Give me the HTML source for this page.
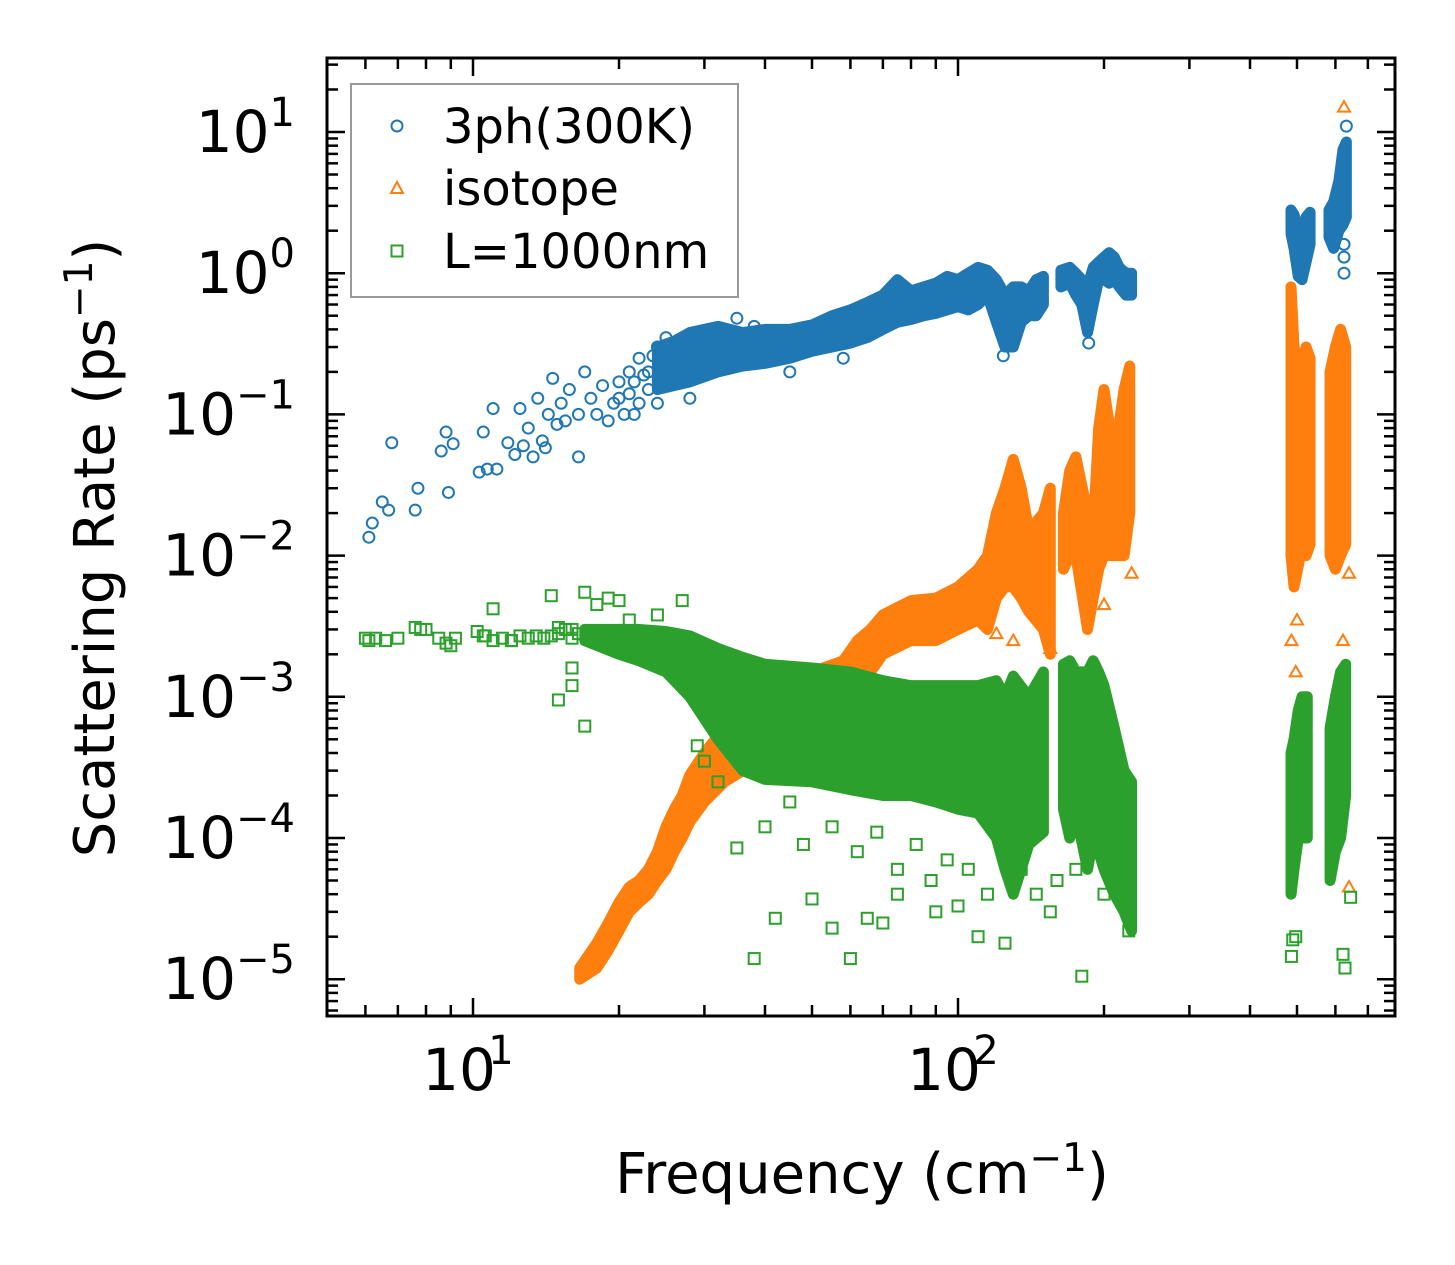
<!DOCTYPE html>
<html><head><meta charset="utf-8"><style>
html,body{margin:0;padding:0;background:#fff;}
svg{display:block;font-family:"DejaVu Sans","Liberation Sans",sans-serif;}
</style></head><body>
<svg id="chart" width="1455" height="1265" viewBox="0 0 1455 1265" xmlns="http://www.w3.org/2000/svg">
<rect x="0" y="0" width="1455" height="1265" fill="#fff"/>
<g id="marks"></g>
<g id="axes"></g>
<text transform="translate(114,548) rotate(-90)" text-anchor="middle" font-size="56">Scattering Rate (ps<tspan font-size="39" dy="-22">−1</tspan><tspan dy="22">)</tspan></text>
<text x="862" y="1193" text-anchor="middle" font-size="56">Frequency (cm<tspan font-size="39" dy="-22">−1</tspan><tspan dy="22">)</tspan></text>
<g>
<rect x="351" y="84" width="387" height="213" fill="#fff" stroke="#999" stroke-width="2"/>
<g>
<circle cx="397" cy="126" r="5.5" fill="none" stroke="#1f77b4" stroke-width="2"/>
<text x="443" y="143" font-size="48">3ph(300K)</text></g>
<g>
<polygon points="391,193 403,193 397,182" fill="none" stroke="#ff7f0e" stroke-width="2"/>
<text x="443" y="205" font-size="48">isotope</text></g>
<g>
<rect x="391.5" y="245.5" width="11" height="11" fill="none" stroke="#2ca02c" stroke-width="2"/>
<text x="443" y="268" font-size="48">L=1000nm</text></g>
</g>
</svg>
<script>
// axis geometry
const X0=327, X1=1395, Y0=58, Y1=1016;
const xDec10=473, xPerDec=485;
const yDec1=132, yPerDec=141.2;
function xs(f){return xDec10+(Math.log10(f)-1)*xPerDec;}
function ys(v){return yDec1+(1-Math.log10(v))*yPerDec;}

const xTickVals=[10,100];
const xTickLabels=["1","2"];
const yTickVals=[10,1,0.1,0.01,0.001,0.0001,0.00001];
const yTickLabels=["1","0","−1","−2","−3","−4","−5"];

// 3ph(300K) data: dense bands [freq, low, high] and isolated points [freq, value]
const blueBandA=[[24,0.15,0.3],[26,0.16,0.33],[28,0.17,0.38],[32,0.2,0.42],[36,0.22,0.38],[40,0.23,0.4],[45,0.25,0.4],[50,0.28,0.43],[55,0.3,0.5],[60,0.32,0.55],[65,0.35,0.62],[70,0.4,0.7],[75,0.45,0.9],[80,0.47,0.75],[85,0.5,0.8],[90,0.52,0.85],[95,0.55,0.95],[100,0.58,0.9],[105,0.55,1.0],[110,0.6,1.1],[115,0.7,1.05],[120,0.45,0.9],[125,0.3,0.7],[130,0.3,0.8],[135,0.45,0.8],[140,0.5,0.75],[145,0.5,0.9],[150,0.6,0.95]];
const blueBandB=[[163,0.8,1.05],[170,0.85,1.1],[175,0.7,1.0],[180,0.6,0.9],[185,0.38,0.8],[190,0.6,1.1],[195,0.9,1.2],[200,0.9,1.3],[205,0.85,1.4],[210,0.9,1.3],[215,0.8,1.1],[222,0.7,1.0],[228,0.7,1.0]];
const blueBandC=[[486,1.9,2.8],[493,1.5,2.6],[503,0.95,2.0],[512,0.9,1.8],[522,1.2,2.5],[532,1.6,2.7]];
const blueBandD=[[582,1.8,2.8],[595,1.5,3.2],[610,2.0,4.5],[622,2.2,7.5],[632,2.5,8.5]];
const bluePts=[[6.1,0.0135],[6.2,0.017],[6.5,0.024],[6.7,0.021],[6.8,0.063],[7.6,0.021],[7.7,0.03],[8.6,0.055],[8.8,0.075],[8.9,0.028],[9.1,0.062],[10.3,0.039],[10.5,0.075],[10.7,0.041],[11,0.11],[11.2,0.041],[11.8,0.063],[12.2,0.052],[12.5,0.11],[12.7,0.06],[13,0.08],[13.3,0.05],[13.6,0.13],[13.9,0.065],[14.1,0.058],[14.3,0.1],[14.6,0.18],[14.9,0.085],[15.2,0.12],[15.5,0.09],[15.8,0.15],[16.5,0.05],[16.5,0.1],[17,0.2],[17.5,0.13],[18,0.1],[18.5,0.16],[19,0.09],[19.5,0.12],[20,0.13],[20,0.17],[20.5,0.1],[21,0.2],[21,0.14],[21.5,0.1],[21.5,0.17],[22,0.25],[22,0.12],[22.5,0.19],[23,0.2],[23,0.15],[23.5,0.26],[24,0.3],[24,0.12],[25,0.35],[25,0.2],[26,0.28],[27,0.22],[28,0.13],[35,0.48],[38,0.42],[45,0.2],[58,0.25],[124,0.26],[186,0.32],[625,1.0],[625,1.3],[625,1.6],[632,11]];

// isotope data
const orangeBandA=[[16.6,0.00001,0.000012],[18,0.000012,0.000018],[19,0.000016,0.000025],[20,0.000022,0.000035],[21,0.00003,0.000045],[22,0.000035,0.00005],[23,0.00004,0.00006],[24,0.00005,0.00008],[25,0.00006,0.00012],[26,0.00008,0.00016],[27,0.0001,0.0002],[28,0.00013,0.00028],[30,0.00018,0.0004],[33,0.00025,0.0006],[36,0.0003,0.0008],[40,0.0005,0.001],[50,0.0006,0.0015],[58,0.001,0.0018],[62,0.0014,0.0025],[66,0.0015,0.003],[70,0.002,0.0038],[80,0.0025,0.0048],[90,0.0025,0.005],[100,0.003,0.006],[110,0.0035,0.008],[115,0.003,0.01],[120,0.005,0.02],[125,0.006,0.03],[130,0.006,0.048],[135,0.005,0.03],[140,0.004,0.015],[150,0.003,0.02],[155,0.002,0.03]];
const orangeBandB=[[165,0.008,0.02],[170,0.01,0.04],[175,0.01,0.05],[185,0.003,0.02],[190,0.005,0.015],[195,0.008,0.08],[200,0.01,0.15],[210,0.01,0.05],[220,0.01,0.15],[226,0.02,0.22]];
const orangeBandC=[[486,0.01,0.8],[493,0.006,0.3],[508,0.01,0.2],[522,0.01,0.3],[532,0.012,0.25]];
const orangeBandD=[[585,0.01,0.2],[600,0.008,0.3],[615,0.01,0.4],[630,0.012,0.3]];
const orangePts=[[487,0.0025],[497,0.0015],[622,0.0025],[640,0.0075],[625,15],[640,0.000045],[155,0.0022],[120,0.0028],[130,0.0025],[228,0.0075],[200,0.0045],[500,0.0035]];

// L=1000nm data
const greenBandA=[[17,0.0025,0.003],[20,0.002,0.003],[22,0.0018,0.003],[25,0.0015,0.0029],[28,0.001,0.0027],[32,0.0005,0.0022],[36,0.0003,0.0019],[40,0.00026,0.0017],[50,0.00025,0.0016],[60,0.00022,0.0015],[70,0.0002,0.0013],[80,0.0002,0.0012],[90,0.00018,0.0012],[100,0.00016,0.0012],[110,0.00015,0.0012],[120,0.0001,0.0013],[125,0.00006,0.001],[130,0.00004,0.0014],[140,0.00009,0.001],[150,0.00011,0.0015]];
const greenBandB=[[165,0.00016,0.0017],[170,0.0001,0.0018],[175,0.00015,0.0015],[185,0.00006,0.0015],[190,0.0001,0.0018],[195,0.00008,0.0015],[200,0.00006,0.0012],[210,0.00004,0.0006],[220,0.00003,0.0003],[228,0.000022,0.00025]];
const greenBandC=[[486,0.00004,0.0004],[493,0.00006,0.0005],[503,0.0001,0.0008],[512,0.0001,0.001],[525,0.0001,0.001]];
const greenBandD=[[585,0.00005,0.0006],[600,0.00008,0.001],[615,0.0001,0.0015],[630,0.0002,0.0017]];
const greenPts=[[6,0.0026],[6.1,0.0025],[6.3,0.0026],[6.6,0.0025],[7,0.0026],[7.6,0.0031],[7.8,0.003],[8.5,0.0026],[8.8,0.0024],[9.2,0.0026],[10.2,0.0029],[10.6,0.0027],[11,0.0025],[11.5,0.0026],[12,0.0025],[12.5,0.0027],[13,0.0026],[13.5,0.0027],[14,0.0026],[14.5,0.0027],[15,0.0028],[15.5,0.003],[16,0.0026],[16.5,0.0028],[8,0.003],[9,0.0023],[10.5,0.0027],[11,0.0042],[12,0.0025],[14.5,0.0052],[15,0.0031],[16,0.003],[17,0.0055],[18,0.0045],[19,0.005],[20,0.0048],[21,0.0035],[15,0.00095],[16,0.0012],[16,0.0016],[17,0.00062],[27,0.0048],[24,0.0038],[35,0.000085],[38,0.000014],[42,0.000027],[50,0.000037],[55,0.000023],[60,0.000014],[65,0.000027],[70,0.000025],[75,0.00004],[90,0.00003],[100,0.000033],[110,0.00002],[125,0.000018],[155,0.00003],[180,0.0000105],[225,0.000022],[487,0.0000145],[490,0.000019],[497,0.00002],[622,0.000015],[628,0.000012],[645,0.000038],[29,0.00045],[30,0.00035],[32,0.00025],[40,0.00012],[45,0.00018],[48,0.00009],[55,0.00012],[62,0.00008],[68,0.00011],[75,0.00006],[82,0.00009],[88,0.00005],[95,0.00007],[105,0.00006],[115,0.00004],[135,0.00006],[145,0.00004],[160,0.00005],[175,0.00006],[200,0.00004],[215,0.00005]];

const NS="http://www.w3.org/2000/svg";
const marks=document.getElementById('marks');
const axes=document.getElementById('axes');
function mk(tag,attrs,parent){const e=document.createElementNS(NS,tag);for(const k in attrs)e.setAttribute(k,attrs[k]);parent.appendChild(e);return e;}

function band(data,color,name){
  const pts=data.map(d=>xs(d[0])+','+ys(d[2])).concat(data.slice().reverse().map(d=>xs(d[0])+','+ys(d[1])));
  const p=mk('polygon',{points:pts.join(' '),fill:color,stroke:color,'stroke-width':11,'stroke-linejoin':'round'},marks);
  
  
}
function marker(type,f,v,color,name){
  const x=xs(f),y=ys(v);let e;
  if(type==='c'){e=mk('circle',{cx:x,cy:y,r:5.5,fill:'none',stroke:color,'stroke-width':2},marks);}
  else if(type==='t'){e=mk('polygon',{points:(x-6)+','+(y+4.5)+' '+(x+6)+','+(y+4.5)+' '+x+','+(y-6),fill:'none',stroke:color,'stroke-width':2},marks);}
  else {e=mk('rect',{x:x-5.5,y:y-5.5,width:11,height:11,fill:'none',stroke:color,'stroke-width':2},marks);}
  
  
}
const B='#1f77b4',O='#ff7f0e',G='#2ca02c';
[blueBandA,blueBandB,blueBandC,blueBandD].forEach(b=>band(b,B,'3ph-dense-region'));
bluePts.forEach(d=>marker('c',d[0],d[1],B,'3ph-point'));
[orangeBandA,orangeBandB,orangeBandC,orangeBandD].forEach(b=>band(b,O,'isotope-dense-region'));
orangePts.forEach(d=>marker('t',d[0],d[1],O,'isotope-point'));
[greenBandA,greenBandB,greenBandC,greenBandD].forEach(b=>band(b,G,'boundary-dense-region'));
greenPts.forEach(d=>marker('s',d[0],d[1],G,'boundary-point'));

// frame
const fr=mk('rect',{x:X0,y:Y0,width:X1-X0,height:Y1-Y0,fill:'none',stroke:'#000','stroke-width':3},axes);


function tickLine(x1,y1,x2,y2){mk('line',{x1:x1,y1:y1,x2:x2,y2:y2,stroke:'#000','stroke-width':2.5},axes);}
// x ticks
for(let e=0;e<3;e++){for(let m=1;m<10;m++){const f=m*Math.pow(10,e);const x=xs(f);if(x<X0+1||x>X1-1)continue;const L=m===1?18:11;tickLine(x,Y1,x,Y1-L);tickLine(x,Y0,x,Y0+L);}}
xTickVals.forEach((v,i)=>{
  const t=mk('text',{x:xs(v)-14,y:1090,'text-anchor':'middle','font-size':58},axes);
  t.textContent='10';
  
  
  const s=mk('tspan',{'font-size':40,dy:-26,x:xs(v)+28},t);s.textContent=xTickLabels[i];
});
// y ticks
for(let e=-6;e<2;e++){for(let m=1;m<10;m++){const v=m*Math.pow(10,e);const y=ys(v);if(y<Y0+1||y>Y1-1)continue;const L=m===1?18:11;tickLine(X0,y,X0+L,y);tickLine(X1,y,X1-L,y);}}
yTickVals.forEach((v,i)=>{
  const y=ys(v);const lab=yTickLabels[i];
  const t=mk('text',{x:295,y:y+20,'text-anchor':'end','font-size':58},axes);
  
  
  const a=mk('tspan',{},t);a.textContent='10';
  const s=mk('tspan',{'font-size':40,dy:-26},t);s.textContent=lab;
});
</script>
</body></html>
